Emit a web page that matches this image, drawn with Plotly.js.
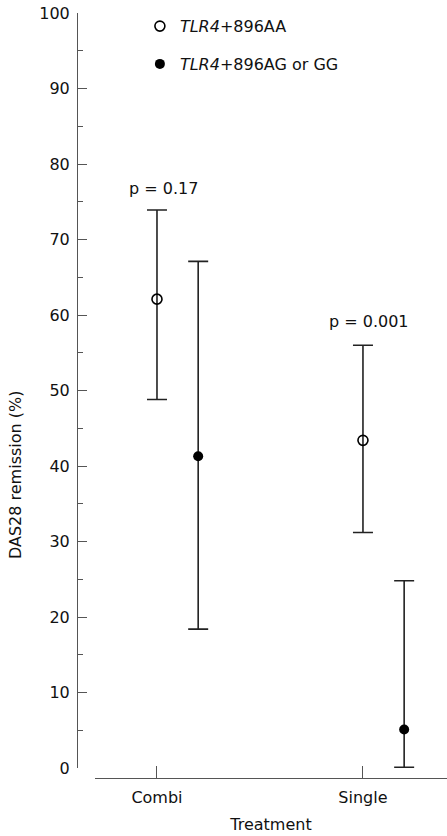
<!DOCTYPE html>
<html>
<head>
<meta charset="utf-8">
<script src="https://cdn.plot.ly/plotly-3.0.1.min.js"></script>
<style>html,body{margin:0;padding:0;background:#fff;}#chart{width:447px;height:836px;}</style>
</head>
<body>
<div id="chart"></div>
<script>
const categories = ['Combi', 'Single'];
const aaName = '<i>TLR4</i>+896AA';
const agName = '<i>TLR4</i>+896AG or GG';
const aaMean = [62.1, 43.4];
const aaLow = [48.8, 31.2];
const aaHigh = [73.9, 56.0];
const agMean = [41.3, 5.1];
const agLow = [18.4, 0.1];
const agHigh = [67.1, 24.8];
const pLabels = ['p = 0.17', 'p = 0.001'];
const pY = [76.8, 59.1];
const yTicks = [0, 10, 20, 30, 40, 50, 60, 70, 80, 90, 100];
const yTitle = 'DAS28 remission (%)';
const xTitle = 'Treatment';

const idx = categories.map((c, i) => i);
const agOffset = 0.2;
const FONT = 'DejaVu Sans, sans-serif';
const INK = '#222';

const traces = [
  {
    type: 'scatter', mode: 'markers', name: aaName,
    x: idx, y: aaMean, legendgroup: 'a',
    marker: {symbol: 'circle-open', size: 10, color: '#000', line: {width: 1.6, color: '#000'}},
    error_y: {type: 'data', symmetric: false,
      array: aaHigh.map((h, i) => h - aaMean[i]),
      arrayminus: aaLow.map((l, i) => aaMean[i] - l),
      color: INK, thickness: 1.6, width: 10},
    cliponaxis: false
  },
  {
    type: 'scatter', mode: 'markers', name: agName,
    x: idx.map(i => i + agOffset), y: agMean, legendgroup: 'b',
    marker: {symbol: 'circle', size: 10, color: '#000'},
    error_y: {type: 'data', symmetric: false,
      array: agHigh.map((h, i) => h - agMean[i]),
      arrayminus: agMean.map((m, i) => m - agLow[i]),
      color: INK, thickness: 1.6, width: 10},
    cliponaxis: false
  }
];

const annotations = pLabels.map((t, i) => ({
  x: i + 0.03, y: pY[i], xref: 'x', yref: 'y', text: t, showarrow: false,
  font: {family: FONT, size: 16, color: '#111'}
}));
annotations.push({
  x: 0, xref: 'paper', xanchor: 'center', xshift: -62,
  y: 0.396, yref: 'paper', yanchor: 'middle',
  text: yTitle, textangle: -90, showarrow: false,
  font: {family: FONT, size: 16, color: '#111'}
});

const layout = {
  width: 447, height: 836,
  margin: {l: 77, r: 0, t: 13, b: 58},
  paper_bgcolor: '#fff', plot_bgcolor: '#fff',
  font: {family: FONT, size: 16, color: '#111'},
  showlegend: true,
  legend: {x: 0.17, y: 1.005, xanchor: 'left', yanchor: 'top', traceorder: 'grouped',
    tracegroupgap: 14, bgcolor: 'rgba(0,0,0,0)', font: {family: FONT, size: 16, color: '#111'}},
  xaxis: {
    domain: [0.0486, 1], range: [-0.301, 1.408],
    anchor: 'free', position: 0,
    tickmode: 'array', tickvals: idx, ticktext: categories,
    ticks: 'inside', ticklen: 12, tickwidth: 1, tickcolor: '#555',
    showline: true, linecolor: '#555', linewidth: 1.2,
    showgrid: false, zeroline: false,
    ticklabelstandoff: 5,
    title: {text: xTitle, font: {family: FONT, size: 16, color: '#111'}, standoff: 12}
  },
  yaxis: {
    domain: [10 / 765, 1], range: [0, 100],
    anchor: 'free', position: 0,
    tickmode: 'array', tickvals: yTicks,
    ticks: 'inside', ticklen: 9, tickwidth: 1, tickcolor: '#555',
    minor: {dtick: 5, ticks: 'inside', ticklen: 5, tickcolor: '#555', showgrid: false},
    showline: true, linecolor: '#555', linewidth: 1.2,
    showgrid: false, zeroline: false,
    ticklabelstandoff: 4
  },
  annotations: annotations
};

Plotly.newPlot('chart', traces, layout, {staticPlot: true, displayModeBar: false});
</script>
</body>
</html>
